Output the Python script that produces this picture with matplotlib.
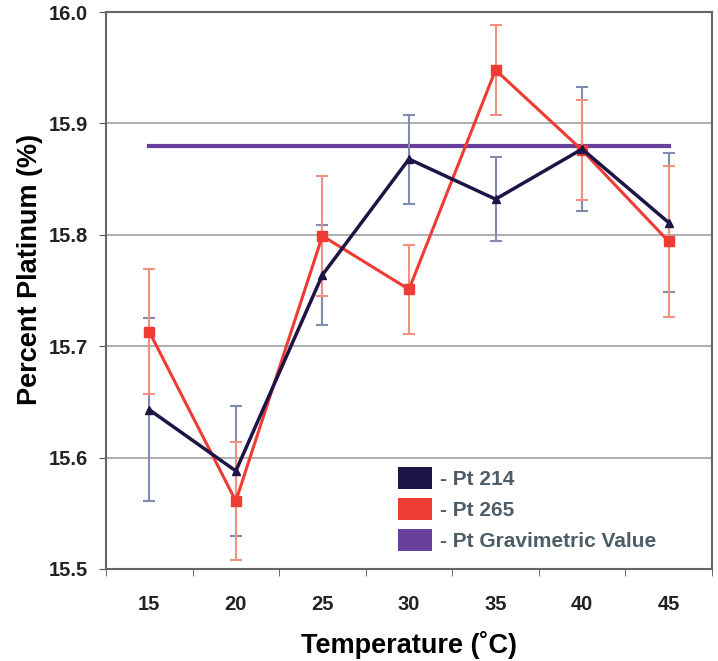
import matplotlib
matplotlib.use("Agg")
import matplotlib.pyplot as plt
from matplotlib.patches import Patch

temps = ["15", "20", "25", "30", "35", "40", "45"]
pt214 = [15.643, 15.588, 15.764, 15.868, 15.832, 15.877, 15.811]
pt214_err = [0.082, 0.058, 0.045, 0.040, 0.038, 0.056, 0.062]
pt265 = [15.713, 15.561, 15.799, 15.751, 15.948, 15.876, 15.794]
pt265_err = [0.056, 0.053, 0.054, 0.040, 0.040, 0.045, 0.068]
gravimetric = [15.88] * 7
legend_labels = ["- Pt 214", "- Pt 265", "- Pt Gravimetric Value"]

c214 = "#1e1446"
c265 = "#ee3b33"
cgrav = "#6a3f9c"
e214 = "#7f8cad"
e265 = "#f3907f"

plt.rcParams['font.family'] = ['Liberation Sans', 'DejaVu Sans']

fig = plt.figure(figsize=(7.18, 6.61), dpi=100)
ax = fig.add_axes([0.1476, 0.1392, 0.844, 0.8426])

x = list(range(len(temps)))

ax.plot(x, gravimetric, color=cgrav, lw=3, zorder=2)
ax.errorbar(x, pt214, yerr=pt214_err, fmt='none', ecolor=e214, elinewidth=1.5,
            capsize=4, capthick=1.5, zorder=3)
ax.errorbar(x, pt265, yerr=pt265_err, fmt='none', ecolor=e265, elinewidth=1.5,
            capsize=4, capthick=1.5, zorder=3)
ax.plot(x, pt265, color=c265, lw=2.2, marker='s', ms=7, zorder=4)
ax.plot(x, pt214, color=c214, lw=2.5, marker='^', ms=6, zorder=5)

ax.set_xlim(-0.5, 6.5)
ax.set_ylim(15.5, 16.0)
ax.set_yticks([15.5, 15.6, 15.7, 15.8, 15.9, 16.0])
ax.set_yticklabels(["15.5", "15.6", "15.7", "15.8", "15.9", "16.0"])
ax.set_xticks(x)
ax.set_xticklabels(temps)
ax.set_xticks([i + 0.5 for i in range(-1, 7)], minor=True)
ax.tick_params(axis='x', which='major', length=0, pad=19)
ax.tick_params(axis='x', which='minor', length=5, direction='out', color='#555555')
ax.tick_params(axis='y', length=5, direction='out', color='#555555', pad=8)
for lbl in ax.get_xticklabels() + ax.get_yticklabels():
    lbl.set_fontweight('bold')
    lbl.set_fontsize(14.5)
    lbl.set_color('#222222')

ax.yaxis.grid(True, color='#a8a8a8', lw=1.3)
ax.set_axisbelow(True)
for s in ax.spines.values():
    s.set_color('#666666')
    s.set_linewidth(1.5)

ax.set_ylabel("Percent Platinum (%)", fontsize=19.5, fontweight='bold')
ax.yaxis.set_label_coords(-0.104, 0.537)
ax.set_xlabel("Temperature (˚C)", fontsize=19.5, fontweight='bold', labelpad=12)

handles = [Patch(facecolor=c, edgecolor='none') for c in (c214, c265, cgrav)]
leg = ax.legend(handles, legend_labels, loc='upper left', bbox_to_anchor=(0.482, 0.184),
                frameon=False, fontsize=15, handlelength=1.63, handleheight=1.3,
                handletextpad=0.4, labelspacing=0.4, borderpad=0, borderaxespad=0)
for t in leg.get_texts():
    t.set_color('#4d5c66')
    t.set_fontweight('bold')

fig.savefig("out.png", dpi=100)
